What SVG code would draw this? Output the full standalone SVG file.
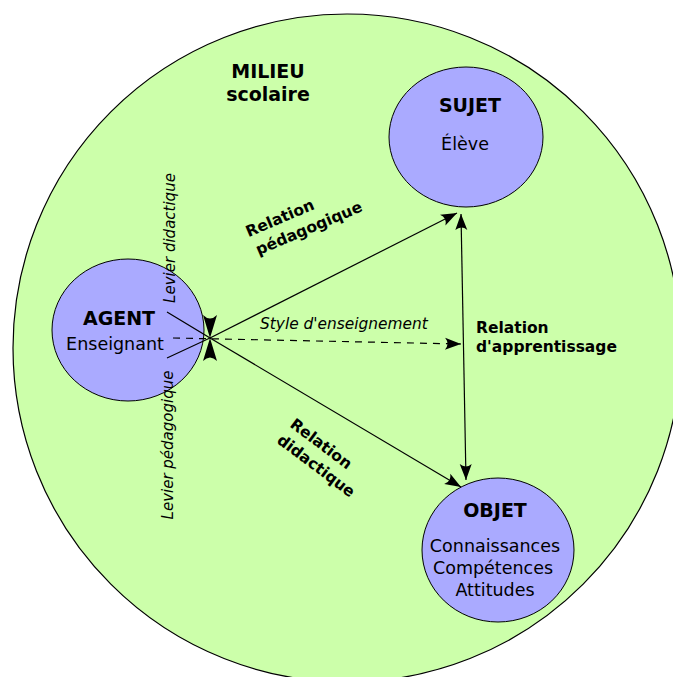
<svg xmlns="http://www.w3.org/2000/svg" width="673" height="677" viewBox="0 0 673 677">
<defs>
<style>
.bg{fill:#ccffaa;stroke:#000;stroke-width:1.2}
.nd{fill:#aaaaff;stroke:#000;stroke-width:1}
text{font-family:"DejaVu Sans","Noto Sans",sans-serif;fill:#000}
.t{font-size:19px;font-weight:bold;text-anchor:middle}
.s{font-size:17.5px;text-anchor:middle}
.i{font-size:15px;font-style:italic}
.b{font-size:15.5px;font-weight:bold}
.ln{fill:none;stroke:#000;stroke-width:1.2}
</style>
<marker id="ah" viewBox="-17 -7 19 14" refX="0" refY="0" markerWidth="19" markerHeight="14" markerUnits="userSpaceOnUse" orient="auto-start-reverse">
<path d="M0,0 L-16,-6 Q-11,0 -16,6 Z" fill="#000"/>
</marker>
</defs>
<rect width="673" height="677" fill="#fff"/>
<g id="milieu">
<circle class="bg" cx="347" cy="348" r="334"/>
<text class="t" x="268" y="78">MILIEU</text>
<text class="t" x="268" y="101">scolaire</text>
</g>
<g id="agent">
<ellipse class="nd" cx="128" cy="330" rx="76" ry="71"/>
<text class="t" x="119" y="325">AGENT</text>
<text class="s" x="115" y="350">Enseignant</text>
</g>
<g id="sujet">
<ellipse class="nd" cx="466" cy="137" rx="77" ry="70"/>
<text class="t" x="470" y="112">SUJET</text>
<text class="s" x="465" y="150">Élève</text>
</g>
<g id="objet">
<ellipse class="nd" cx="498" cy="550" rx="76" ry="72"/>
<text class="t" x="495" y="517">OBJET</text>
<text class="s" x="495" y="552">Connaissances</text>
<text class="s" x="493" y="574">Compétences</text>
<text class="s" x="495" y="596">Attitudes</text>
</g>
<g id="connectors">
<line class="ln" x1="210" y1="338" x2="457" y2="213" marker-end="url(#ah)"/>
<line class="ln" x1="210" y1="338" x2="461" y2="487" marker-end="url(#ah)"/>
<line class="ln" x1="461" y1="214" x2="466" y2="480" marker-start="url(#ah)" marker-end="url(#ah)"/>
<line class="ln" x1="173" y1="338" x2="461" y2="344" stroke-dasharray="7,6" marker-end="url(#ah)"/>
<path class="ln" d="M167,312 L210,338 L167,358"/>
<path d="M210,338 L203,315 Q210,322 217,315 Z" fill="#000"/>
<path d="M210,338 L203,361 Q210,354 217,361 Z" fill="#000"/>
</g>
<g id="labels">
<text class="i" text-anchor="middle" transform="translate(175,238) rotate(-90)">Levier didactique</text>
<text class="i" text-anchor="middle" transform="translate(173,445) rotate(-90)">Levier pédagogique</text>
<text class="i" x="260" y="329" style="font-size:15.4px">Style d'enseignement</text>
<text class="b" x="476" y="333">Relation</text>
<text class="b" x="476" y="352">d'apprentissage</text>
<text class="b" text-anchor="middle" transform="translate(282,223) rotate(-23)">Relation</text>
<text class="b" text-anchor="middle" transform="translate(311,233) rotate(-23)">pédagogique</text>
<text class="b" text-anchor="middle" transform="translate(318,448) rotate(37)">Relation</text>
<text class="b" text-anchor="middle" transform="translate(313,470) rotate(37)">didactique</text>
</g>
</svg>
